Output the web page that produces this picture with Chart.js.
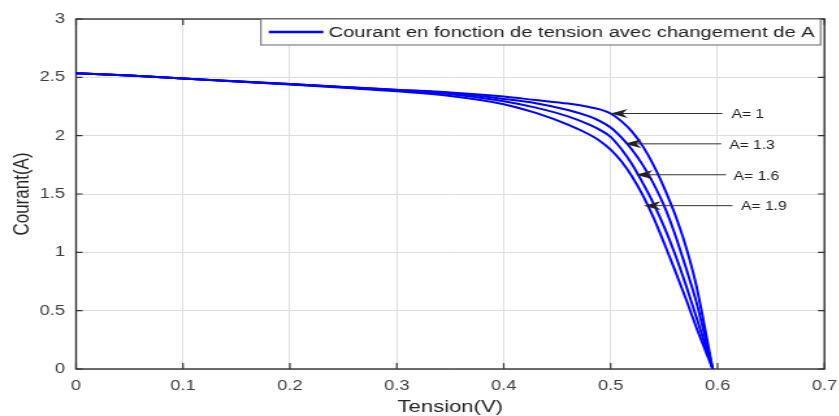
<!DOCTYPE html>
<html lang="fr">
<head>
<meta charset="UTF-8">
<title>Courant en fonction de tension</title>
<script src="https://cdn.jsdelivr.net/npm/chart.js"></script>
<style>
    html, body {
        margin: 0;
        padding: 0;
        background: #fff;
        overflow: hidden;
    }
    /* the figure is drawn narrow and stretched sideways, like the exported plot */
    #wrap {
        width: 645px;
        height: 416px;
        transform: scaleX(1.3);
        transform-origin: 0 0;
    }
</style>
</head>
<body>
<div id="wrap"><canvas id="ivChart"></canvas></div>

<script>
    // I-V curves of the cell for several ideality factors A
    const tension = [0, 0.05, 0.1, 0.15, 0.2, 0.25, 0.3, 0.35, 0.4, 0.43, 0.46, 0.48, 0.49,
                     0.5, 0.51, 0.52, 0.53, 0.54, 0.55, 0.56, 0.57, 0.58, 0.5955];
    const courantA1  = [2.535, 2.515, 2.49, 2.466, 2.442, 2.418, 2.394, 2.37, 2.335, 2.305, 2.275, 2.245, 2.225,
                        2.19, 2.125, 2.035, 1.91, 1.75, 1.555, 1.33, 1.06, 0.72, 0];
    const courantA13 = [2.535, 2.515, 2.49, 2.466, 2.442, 2.417, 2.392, 2.365, 2.315, 2.278, 2.22, 2.165, 2.125,
                        2.07, 1.985, 1.88, 1.75, 1.59, 1.40, 1.16, 0.88, 0.58, 0];
    const courantA16 = [2.535, 2.515, 2.49, 2.465, 2.44, 2.415, 2.388, 2.355, 2.295, 2.24, 2.165, 2.095, 2.05,
                        1.99, 1.885, 1.755, 1.595, 1.42, 1.22, 0.99, 0.73, 0.45, 0];
    const courantA19 = [2.535, 2.515, 2.49, 2.464, 2.438, 2.41, 2.38, 2.34, 2.27, 2.195, 2.095, 2.01, 1.955,
                        1.88, 1.78, 1.65, 1.49, 1.30, 1.08, 0.85, 0.61, 0.36, 0];

    const xTickValues = [0, 0.1, 0.2, 0.3, 0.4, 0.5, 0.6, 0.7];
    const xTickLabels = ['0', '0.1', '0.2', '0.3', '0.4', '0.5', '0.6', '0.7'];
    const yTickValues = [0, 0.5, 1, 1.5, 2, 2.5, 3];
    const yTickLabels = ['0', '0.5', '1', '1.5', '2', '2.5', '3'];

    // arrows pointing at each curve, with their labels
    const noteLabels = ['A= 1', 'A= 1.3', 'A= 1.6', 'A= 1.9'];
    const noteTipV   = [0.500, 0.513, 0.5235, 0.531];
    const noteTipI   = [2.19, 1.93, 1.665, 1.40];
    const noteTailV  = [0.6045, 0.6035, 0.608, 0.614];
    const noteTextV  = [0.613, 0.611, 0.615, 0.622];

    const FONT = '"Liberation Sans", Arial, Helvetica, sans-serif';

    function toPoints(ys) {
        return tension.map((v, i) => ({ x: v, y: ys[i] }));
    }

    function curve(label, ys) {
        return {
            label: label,
            data: toPoints(ys),
            borderColor: '#0000ff',
            borderWidth: 2,
            pointRadius: 0,
            fill: false,
            cubicInterpolationMode: 'monotone'
        };
    }

    // box, inner ticks, legend and arrows in the usual MATLAB look
    const matlabStyle = {
        id: 'matlabStyle',
        beforeDatasetsDraw(chart) {
            const { ctx, chartArea: a, scales: { x, y } } = chart;
            ctx.save();
            ctx.strokeStyle = '#333';
            ctx.lineWidth = 1.4;
            ctx.strokeRect(a.left, a.top, a.right - a.left, a.bottom - a.top);
            ctx.lineWidth = 1.2;
            ctx.beginPath();
            x.ticks.forEach(t => {
                const px = x.getPixelForValue(t.value);
                ctx.moveTo(px, a.bottom); ctx.lineTo(px, a.bottom - 6);
                ctx.moveTo(px, a.top); ctx.lineTo(px, a.top + 6);
            });
            y.ticks.forEach(t => {
                const py = y.getPixelForValue(t.value);
                ctx.moveTo(a.left, py); ctx.lineTo(a.left + 5, py);
                ctx.moveTo(a.right, py); ctx.lineTo(a.right - 5, py);
            });
            ctx.stroke();
            ctx.restore();
        },
        afterDatasetsDraw(chart) {
            const { ctx, chartArea: a, scales: { x, y } } = chart;
            ctx.save();

            // legend box, top right inside the axes
            const ds = chart.data.datasets[0];
            ctx.font = '15.5px ' + FONT;
            const tw = ctx.measureText(ds.label).width;
            const pad = 6, lineLen = 42, gap = 4, h = 26;
            const right = a.right - 3;
            const left = right - (pad + lineLen + gap + tw + 4.5);
            const top = a.top;
            ctx.fillStyle = '#fff';
            ctx.fillRect(left, top, right - left, h);
            ctx.strokeStyle = '#666';
            ctx.lineWidth = 1;
            ctx.strokeRect(left, top, right - left, h);
            ctx.strokeStyle = ds.borderColor;
            ctx.lineWidth = 2.5;
            ctx.beginPath();
            ctx.moveTo(left + pad, top + h / 2);
            ctx.lineTo(left + pad + lineLen, top + h / 2);
            ctx.stroke();
            ctx.fillStyle = '#222';
            ctx.textAlign = 'left';
            ctx.textBaseline = 'middle';
            ctx.fillText(ds.label, left + pad + lineLen + gap, top + h / 2 + 1);

            // arrows with their labels
            const L = 13, W = 4.5;
            ctx.font = '12px ' + FONT;
            noteLabels.forEach((txt, i) => {
                const tipX = x.getPixelForValue(noteTipV[i]);
                const py = y.getPixelForValue(noteTipI[i]);
                const tailX = x.getPixelForValue(noteTailV[i]);
                ctx.strokeStyle = '#333';
                ctx.fillStyle = '#222';
                ctx.lineWidth = 1;
                ctx.beginPath();
                ctx.moveTo(tailX, py);
                ctx.lineTo(tipX + L * 0.7, py);
                ctx.stroke();
                ctx.beginPath();
                ctx.moveTo(tipX, py);
                ctx.lineTo(tipX + L, py - W);
                ctx.lineTo(tipX + L * 0.7, py);
                ctx.lineTo(tipX + L, py + W);
                ctx.closePath();
                ctx.fill();
                ctx.fillText(txt, x.getPixelForValue(noteTextV[i]), py + 1.5);
            });
            ctx.restore();
        }
    };

    const ctx = document.getElementById('ivChart').getContext('2d');
    const ivChart = new Chart(ctx, {
        type: 'line',
        data: {
            datasets: [
                curve('Courant en fonction de tension avec changement de A', courantA1),
                curve('A= 1.3', courantA13),
                curve('A= 1.6', courantA16),
                curve('A= 1.9', courantA19)
            ]
        },
        options: {
            responsive: true,
            maintainAspectRatio: false,
            animation: false,
            layout: { padding: { top: 19, right: 10.8, left: 0, bottom: 0 } },
            plugins: {
                legend: { display: false },
                tooltip: { enabled: false }
            },
            scales: {
                x: {
                    type: 'linear',
                    min: 0,
                    max: 0.7,
                    afterFit(s) {
                        s.height = 47;
                        s.paddingLeft = 0;
                        s.paddingRight = 0;
                    },
                    afterBuildTicks(s) { s.ticks = xTickValues.map(v => ({ value: v })); },
                    ticks: {
                        padding: 9,
                        color: '#404040',
                        font: { family: FONT, size: 14 },
                        maxRotation: 0,
                        autoSkip: false,
                        callback: (v, i) => xTickLabels[i]
                    },
                    grid: { color: '#dedede', lineWidth: 1, drawTicks: false },
                    border: { display: false },
                    title: {
                        display: true,
                        text: 'Tension(V)',
                        color: '#262626',
                        font: { family: FONT, size: 17, lineHeight: 1 },
                        padding: { top: 0, bottom: 0 }
                    }
                },
                y: {
                    min: 0,
                    max: 3,
                    afterFit(s) {
                        s.width = 58.5;
                        s.paddingTop = 0;
                        s.paddingBottom = 0;
                    },
                    afterBuildTicks(s) { s.ticks = yTickValues.map(v => ({ value: v })); },
                    ticks: {
                        padding: 8.5,
                        color: '#404040',
                        font: { family: FONT, size: 14 },
                        callback: (v, i) => yTickLabels[i]
                    },
                    grid: { color: '#dedede', lineWidth: 1, drawTicks: false },
                    border: { display: false },
                    title: {
                        display: true,
                        text: 'Courant(A)',
                        color: '#262626',
                        font: { family: FONT, size: 17, lineHeight: 1 },
                        padding: { top: 8.4, bottom: 0 }
                    }
                }
            }
        },
        plugins: [matlabStyle]
    });
</script>
</body>
</html>
